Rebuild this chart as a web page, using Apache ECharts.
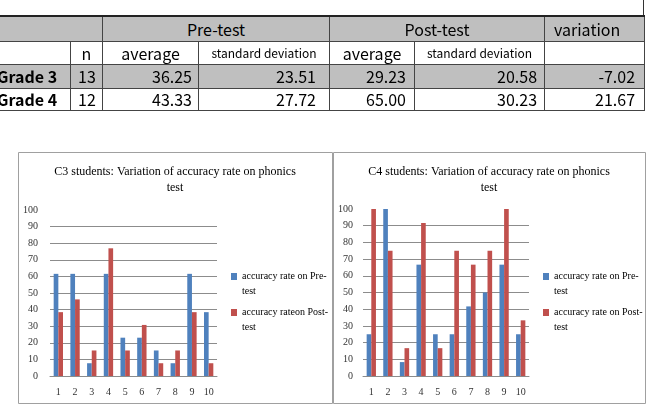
<!DOCTYPE html>
<html>
<head>
<meta charset="utf-8">
<script src="https://cdn.jsdelivr.net/npm/echarts@6/dist/echarts.min.js"></script>
<style>
html, body { margin: 0; padding: 0; background: #fff; overflow: hidden; }
#chart { position: absolute; left: 0; top: 0; width: 651px; height: 413px; }
#topBox { position: absolute; left: -2px; top: -2px; width: 645px; height: 17px; border-right: 1px solid #333; }
#scoreTable {
    position: absolute; left: -4px; top: 15px; width: 648px;
    border-collapse: collapse; table-layout: fixed;
    font-family: "Noto Sans CJK JP", "Noto Sans", sans-serif; font-size: 16px; color: #000;
}
#scoreTable td { border: 1px solid #444; padding: 0 7px; line-height: 1; white-space: nowrap; overflow: hidden; }
#scoreTable tr.gray td { background: #bfbfbf; }
#scoreTable tr.first td { border-top: 2px solid #222; }
#scoreTable td.c { text-align: center; }
#scoreTable td.r { text-align: right; }
#scoreTable td.small { font-size: 12px; }
#scoreTable td.b { font-weight: bold; padding-left: 0; }
</style>
</head>
<body>
<div id="chart"></div>
<div id="topBox"></div>
<table id="scoreTable"></table>
<script>
// table values
const tableGroups = ['Pre-test', 'Post-test', 'variation'];
const tableSubHeads = ['n', 'average', 'standard deviation', 'average', 'standard deviation', ''];
const gradeNames = ['Grade 3', 'Grade 4'];
const nValues = ['13', '12'];
const preAvg = ['36.25', '43.33'];
const preSd = ['23.51', '27.72'];
const postAvg = ['29.23', '65.00'];
const postSd = ['20.58', '30.23'];
const variation = ['-7.02', '21.67'];

// chart values
const categories = ['1', '2', '3', '4', '5', '6', '7', '8', '9', '10'];
const g3Pre = [61.54, 61.54, 7.69, 61.54, 23.08, 23.08, 15.38, 7.69, 61.54, 38.46];
const g3Post = [38.46, 46.15, 15.38, 76.92, 15.38, 30.77, 7.69, 15.38, 38.46, 7.69];
const g4Pre = [25, 100, 8.33, 66.67, 25, 25, 41.67, 50, 66.67, 25];
const g4Post = [100, 75, 16.67, 91.67, 16.67, 75, 66.67, 75, 100, 33.33];

const titleLeft = 'C3 students: Variation of accuracy rate on phonics\ntest';
const titleRight = 'C4 students: Variation of accuracy rate on phonics\ntest';
const namePre = 'accuracy rate on Pre-test';
const namePostLeft = 'accuracy rateon Post-test';
const namePostRight = 'accuracy rate on Post-test';

// build table
function buildTable() {
    const colW = [74, 32, 96, 131, 85, 130, 100];
    const rowH = [25, 23, 24, 22];
    let html = '<colgroup>' + colW.map(w => '<col style="width:' + w + 'px">').join('') + '</colgroup>';
    html += '<tr class="gray first" style="height:' + rowH[0] + 'px"><td colspan="2"></td>'
        + '<td colspan="2" class="c">' + tableGroups[0] + '</td>'
        + '<td colspan="2" class="c">' + tableGroups[1] + '</td>'
        + '<td style="padding-left:9px">' + tableGroups[2] + '</td></tr>';
    html += '<tr style="height:' + rowH[1] + 'px"><td></td>';
    tableSubHeads.forEach((t, i) => {
        const small = (i === 2 || i === 4) ? ' small' : '';
        html += '<td class="c' + small + '">' + t + '</td>';
    });
    html += '</tr>';
    const padR = [6, 13, 8, 7, 9];
    gradeNames.forEach((g, i) => {
        const vals = [preAvg[i], preSd[i], postAvg[i], postSd[i], variation[i]];
        html += '<tr' + (i === 0 ? ' class="gray"' : '') + ' style="height:' + rowH[i + 2] + 'px">'
            + '<td class="b">' + g + '</td><td class="c">' + nValues[i] + '</td>';
        vals.forEach((v, j) => {
            html += '<td class="r" style="padding-right:' + padR[j] + 'px">' + v + '</td>';
        });
        html += '</tr>';
    });
    document.getElementById('scoreTable').innerHTML = html;
}
buildTable();

const serif = '"Liberation Serif", "DejaVu Serif", serif';
const gridColor = '#8c8c8c';
const blue = '#4F81BD';
const red = '#C0504D';

// no line at 100
const splitColors = [];
for (let i = 0; i < 10; i++) splitColors.push(gridColor);
splitColors.push('rgba(0,0,0,0)');

function makeX(idx) {
    return {
        type: 'category', gridIndex: idx, data: categories,
        axisLine: { lineStyle: { color: gridColor } },
        axisTick: { show: false },
        axisLabel: { fontFamily: serif, fontSize: 10, color: '#333', margin: 11 }
    };
}
function makeY(idx, margin) {
    return {
        type: 'value', gridIndex: idx, min: 0, max: 100, interval: 10,
        axisLine: { show: false }, axisTick: { show: false },
        axisLabel: { fontFamily: serif, fontSize: 10, color: '#333', margin: margin },
        splitLine: { lineStyle: { color: splitColors, width: 1 } }
    };
}
function makeBar(name, data, idx, color) {
    return {
        name: name, type: 'bar', xAxisIndex: idx, yAxisIndex: idx, data: data,
        itemStyle: { color: color },
        barGap: '0%', barCategoryGap: '44%'
    };
}
// blank first line so the icon sits next to the first text line
function makeLegend(name, left, top) {
    return {
        data: [name], left: left, top: top, padding: 0,
        icon: 'rect', itemWidth: 6, itemHeight: 7,
        formatter: n => '\n' + n.replace('-', '-\n'),
        textStyle: { fontFamily: serif, fontSize: 10, lineHeight: 15, color: '#000' }
    };
}
function makeTitle(text, x) {
    return {
        text: text, left: x, top: 164, textAlign: 'center', padding: 0,
        textStyle: { fontFamily: serif, fontSize: 12, fontWeight: 'normal', lineHeight: 16, color: '#000' }
    };
}

const EChart = echarts.init(document.getElementById('chart'));
EChart.setOption({
    animation: false,
    title: [makeTitle(titleLeft, 175), makeTitle(titleRight, 489)],
    legend: [
        makeLegend(namePre, 231, 254),
        makeLegend(namePostLeft, 231, 290),
        makeLegend(namePre, 543, 254),
        makeLegend(namePostRight, 543, 290)
    ],
    grid: [
        { left: 50, top: 210, width: 167, height: 166 },
        { left: 363, top: 209, width: 166, height: 167 }
    ],
    xAxis: [makeX(0), makeX(1)],
    yAxis: [makeY(0, 12), makeY(1, 10)],
    series: [
        makeBar(namePre, g3Pre, 0, blue),
        makeBar(namePostLeft, g3Post, 0, red),
        makeBar(namePre, g4Pre, 1, blue),
        makeBar(namePostRight, g4Post, 1, red)
    ],
    graphic: [
        { type: 'rect', shape: { x: 18.5, y: 152.5, width: 314, height: 251 }, style: { fill: 'none', stroke: '#a0a0a0', lineWidth: 1 }, silent: true },
        { type: 'rect', shape: { x: 333.5, y: 152.5, width: 312, height: 251 }, style: { fill: 'none', stroke: '#a0a0a0', lineWidth: 1 }, silent: true }
    ]
});
</script>
</body>
</html>
